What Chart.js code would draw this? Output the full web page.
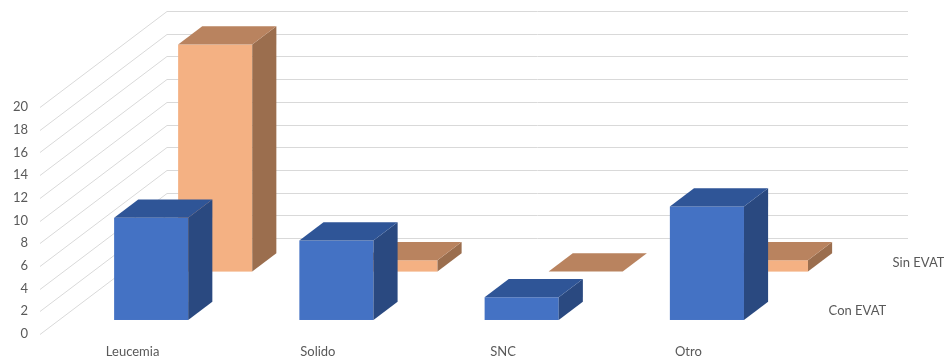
<!DOCTYPE html>
<html>
<head>
<meta charset="utf-8">
<script src="https://cdn.jsdelivr.net/npm/chart.js@4/dist/chart.umd.min.js"></script>
<style>
  html, body { margin: 0; padding: 0; background: #ffffff; }
</style>
</head>
<body>
<canvas id="grafico" width="944" height="358"></canvas>
<script>
/* columnas 3D por tipo de tumor */

const categorias = ['Leucemia', 'Solido', 'SNC', 'Otro'];
const conEvat    = [9, 7, 2, 10];
const sinEvat    = [20, 1, 0, 1];
const yMin  = 0;
const yMax  = 20;
const yPaso = 2;

// vector de profundidad completa (de la cara frontal al fondo)
const PROF_X = 127;
const PROF_Y = 96;
const FUENTE = { family: 'Lato, "Open Sans", sans-serif', size: 13 };
const GRIS   = '#595959';

function caja(ctx, x0, x1, top, base, d0, dd, colores) {
    // desplaza la cara frontal hasta su fila de profundidad
    const ox = d0 * PROF_X, oy = d0 * PROF_Y;
    const l = x0 + ox, r = x1 + ox, t = top - oy, b = base - oy;
    const px = dd * PROF_X, py = dd * PROF_Y;

    if (b - t > 0.5) {
        ctx.fillStyle = colores.frente;
        ctx.fillRect(l, t, r - l, b - t);
        ctx.fillStyle = colores.lado;
        ctx.beginPath();
        ctx.moveTo(r, t);
        ctx.lineTo(r + px, t - py);
        ctx.lineTo(r + px, b - py);
        ctx.lineTo(r, b);
        ctx.closePath();
        ctx.fill();
    }
    ctx.fillStyle = colores.tapa;
    ctx.beginPath();
    ctx.moveTo(l, t);
    ctx.lineTo(r, t);
    ctx.lineTo(r + px, t - py);
    ctx.lineTo(l + px, t - py);
    ctx.closePath();
    ctx.fill();
}

const columnas3d = {
    id: 'columnas3d',
    beforeDatasetsDraw(chart) {
        const { ctx, chartArea, scales } = chart;
        const y = scales.y;
        ctx.save();
        ctx.strokeStyle = '#d9d9d9';
        ctx.lineWidth = 1;
        y.ticks.forEach(tk => {
            const py = Math.round(y.getPixelForValue(tk.value)) + 0.5;
            ctx.beginPath();
            ctx.moveTo(chartArea.left, py);
            ctx.lineTo(chartArea.left + PROF_X, py - PROF_Y);
            ctx.lineTo(chartArea.right + PROF_X, py - PROF_Y);
            ctx.stroke();
        });
        ctx.restore();
    },
    beforeDatasetDraw() {
        // las barras planas no se dibujan, solo las cajas
        return false;
    },
    afterDatasetsDraw(chart) {
        const { ctx, chartArea } = chart;
        ctx.save();
        // de atrás hacia adelante
        for (let i = chart.data.datasets.length - 1; i >= 0; i--) {
            const ds   = chart.data.datasets[i];
            const meta = chart.getDatasetMeta(i);
            meta.data.forEach(bar => {
                const w = bar.width;
                caja(ctx, bar.x - w / 2, bar.x + w / 2, bar.y, bar.base,
                     ds.profundidad, ds.grosor,
                     { frente: ds.backgroundColor, tapa: ds.colorTapa, lado: ds.colorLado });
            });
            // etiqueta de la serie sobre el eje de profundidad
            const dm = ds.profundidad + ds.grosor / 2;
            ctx.fillStyle = GRIS;
            ctx.font = FUENTE.size + 'px ' + FUENTE.family;
            ctx.textAlign = 'left';
            ctx.textBaseline = 'middle';
            ctx.fillText(ds.label, chartArea.right + dm * PROF_X + 17, chartArea.bottom - dm * PROF_Y);
        }
        ctx.restore();
    }
};

new Chart(document.getElementById('grafico'), {
    type: 'bar',
    data: {
        labels: categorias,
        datasets: [
            {
                label: 'Con EVAT',
                data: conEvat,
                backgroundColor: '#4472C4',
                colorTapa: '#2F5597',
                colorLado: '#2A4980',
                profundidad: 0.146,
                grosor: 0.19,
            },
            {
                label: 'Sin EVAT',
                data: sinEvat,
                backgroundColor: '#F4B183',
                colorTapa: '#B9835F',
                colorLado: '#9B6E4E',
                profundidad: 0.65,
                grosor: 0.19,
            }
        ]
    },
    options: {
        responsive: false,
        animation: false,
        grouped: false,
        barPercentage: 0.4,
        categoryPercentage: 1,
        layout: { padding: { top: 107, right: 163, left: 0, bottom: 0 } },
        plugins: { legend: { display: false }, tooltip: { enabled: false } },
        scales: {
            x: {
                grid: { display: false, drawTicks: false },
                border: { display: false },
                ticks: { color: GRIS, font: FUENTE, padding: 10 },
                afterFit(scale) { scale.height = 24; }
            },
            y: {
                min: yMin,
                max: yMax,
                grid: { display: false, drawTicks: false },
                border: { display: false },
                ticks: { stepSize: yPaso, color: GRIS, font: FUENTE, padding: 12 },
                afterFit(scale) { scale.width = 40; }
            }
        }
    },
    plugins: [columnas3d]
});
</script>
</body>
</html>
